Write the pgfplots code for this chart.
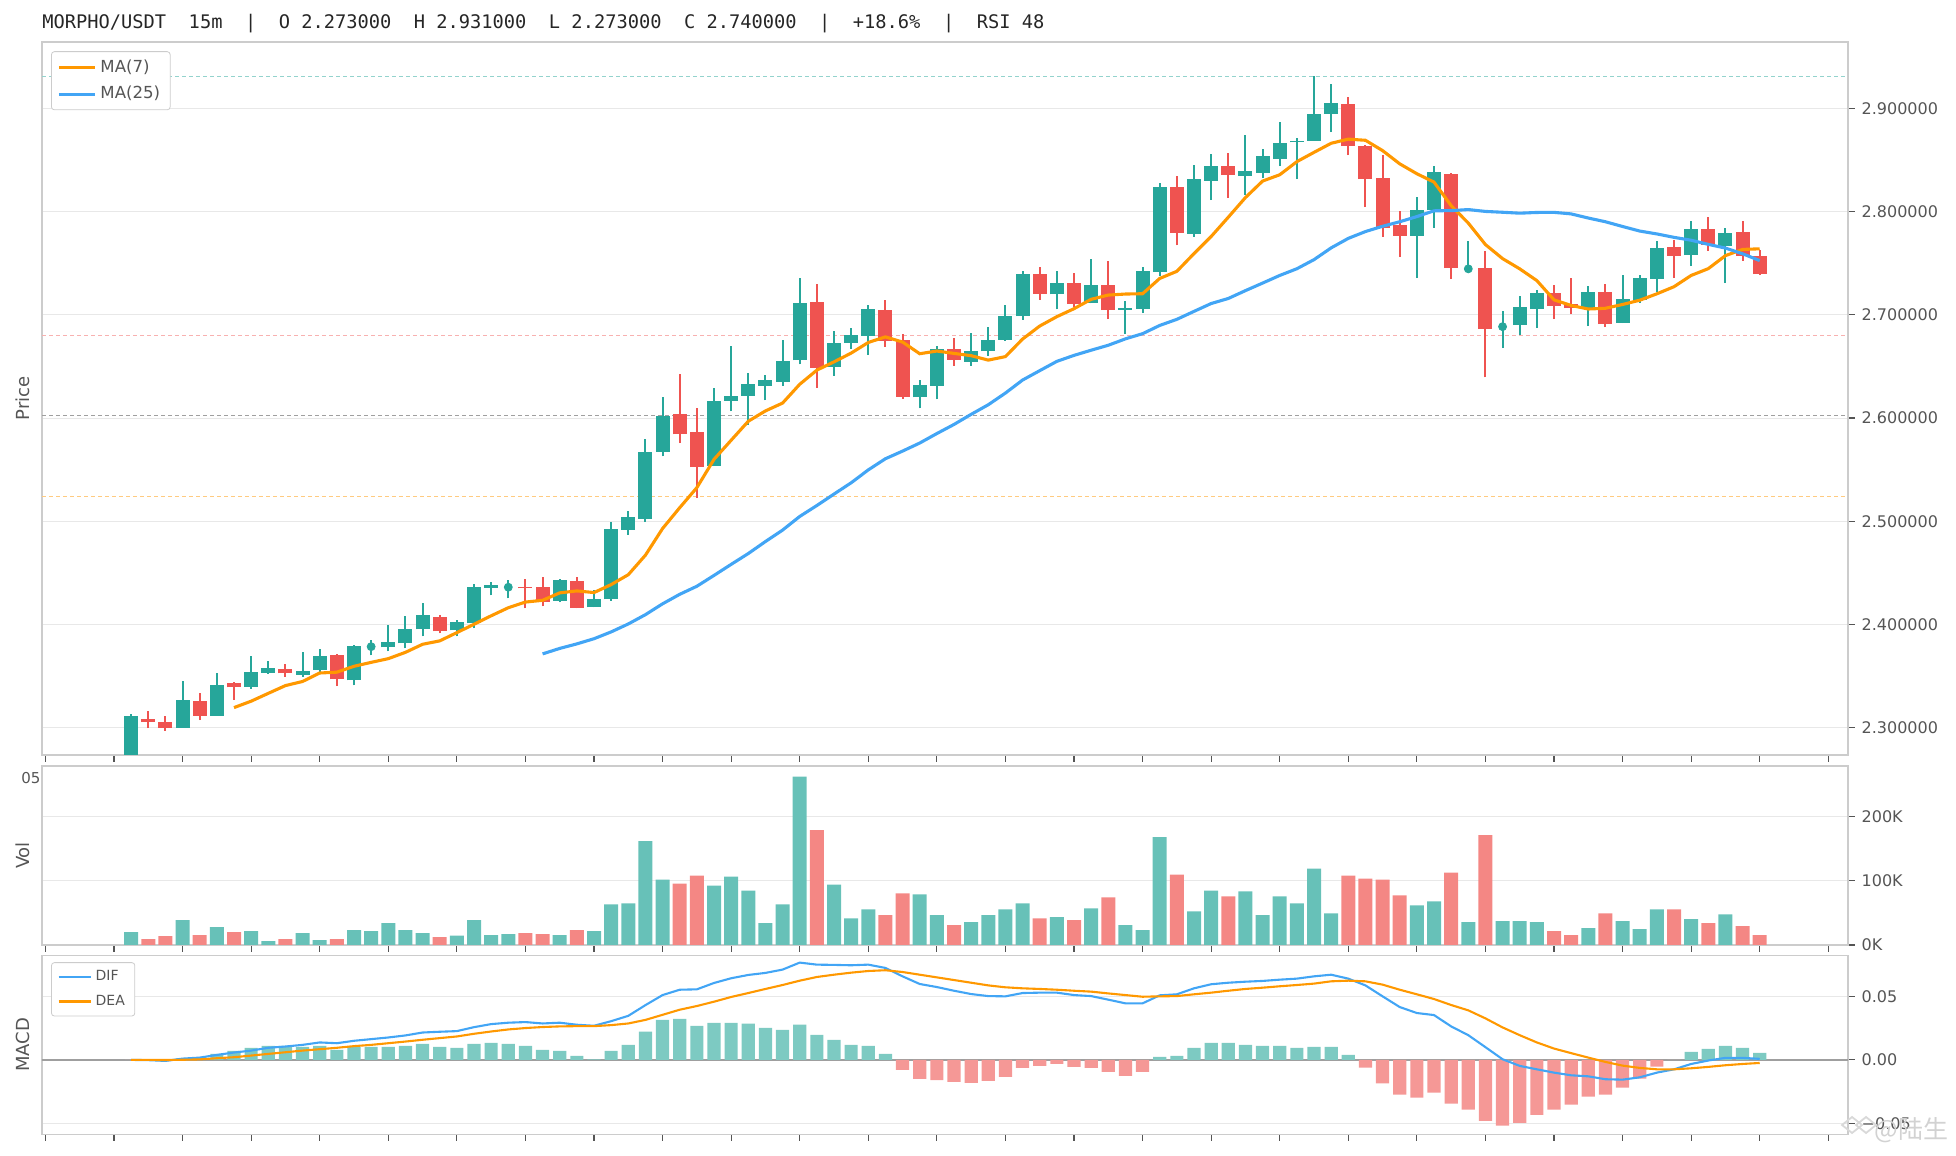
\documentclass[border=0pt]{standalone}
\usepackage{pgfplots}
\pgfplotsset{compat=1.18}
\usepackage{pgfplotstable}
\usepackage{fontspec}
\setmainfont{DejaVu Sans}
\newfontfamily\monofont{DejaVu Sans Mono}
\newfontfamily\cjk{Noto Sans CJK SC}
\definecolor{up}{HTML}{26A69A}
\definecolor{down}{HTML}{EF5350}
\definecolor{maorange}{HTML}{FF9800}
\definecolor{mablue}{HTML}{42A5F5}
\definecolor{gridc}{HTML}{E8E8E8}
\definecolor{spine}{HTML}{CCCCCC}
\definecolor{tickc}{HTML}{555555}

% up candles: index, open, high, low, close, volume (K)
\pgfplotstableread{
i o h l c v
0 2.2730 2.3135 2.2730 2.3110 20.0
3 2.3003 2.3457 2.3000 2.3274 38.5
5 2.3119 2.3535 2.3119 2.3419 27.7
7 2.3399 2.3699 2.3380 2.3544 21.5
8 2.3535 2.3650 2.3525 2.3583 6.2
10 2.3515 2.3738 2.3496 2.3554 18.5
11 2.3564 2.3767 2.3535 2.3699 7.7
13 2.3460 2.3805 2.3412 2.3795 23.1
14 2.3786 2.3853 2.3702 2.3786 21.5
15 2.3779 2.3998 2.3741 2.3834 33.8
16 2.3818 2.4085 2.3770 2.3960 23.1
17 2.3953 2.4211 2.3886 2.4095 18.5
19 2.3944 2.4047 2.3886 2.4027 14.4
20 2.4011 2.4395 2.3963 2.4362 38.5
21 2.4359 2.4414 2.4282 2.4385 15.4
22 2.4362 2.4433 2.4253 2.4362 16.9
25 2.4233 2.4443 2.4214 2.4433 15.4
27 2.4166 2.4337 2.4166 2.4250 21.5
28 2.4243 2.4994 2.4230 2.4926 63.1
29 2.4920 2.5100 2.4871 2.5042 64.6
30 2.5021 2.5798 2.4992 2.5675 161.5
31 2.5675 2.6207 2.5630 2.6024 101.5
34 2.5534 2.6294 2.5534 2.6169 92.3
35 2.6169 2.6700 2.6065 2.6217 106.2
36 2.6217 2.6439 2.5933 2.6333 84.6
37 2.6314 2.6420 2.6172 2.6372 33.8
38 2.6352 2.6758 2.6314 2.6555 63.1
39 2.6558 2.7358 2.6520 2.7116 261.5
41 2.6497 2.6845 2.6410 2.6729 93.8
42 2.6729 2.6874 2.6671 2.6807 41.5
43 2.6797 2.7097 2.6613 2.7058 55.4
46 2.6201 2.6372 2.6094 2.6323 78.5
47 2.6314 2.6700 2.6181 2.6671 46.2
49 2.6546 2.6826 2.6507 2.6652 35.4
50 2.6646 2.6884 2.6604 2.6758 46.2
51 2.6758 2.7090 2.6749 2.6990 55.4
52 2.6987 2.7425 2.6952 2.7396 64.6
54 2.7197 2.7425 2.7052 2.7309 43.1
56 2.7116 2.7537 2.7110 2.7285 56.9
58 2.7049 2.7130 2.6812 2.7061 30.8
59 2.7055 2.7460 2.7016 2.7421 23.1
60 2.7414 2.8275 2.7375 2.8236 167.7
62 2.7783 2.8450 2.7754 2.8314 52.3
63 2.8298 2.8557 2.8110 2.8440 84.6
65 2.8343 2.8741 2.8159 2.8392 83.1
66 2.8372 2.8605 2.8324 2.8537 46.2
67 2.8508 2.8867 2.8440 2.8663 75.4
68 2.8670 2.8712 2.8314 2.8683 64.6
69 2.8686 2.9310 2.8686 2.8945 118.5
70 2.8945 2.9236 2.8770 2.9052 49.2
75 2.7764 2.8139 2.7356 2.8010 61.5
76 2.8010 2.8440 2.7841 2.8382 67.7
78 2.7445 2.7712 2.7430 2.7445 35.4
80 2.6885 2.7032 2.6676 2.6885 36.9
81 2.6900 2.7178 2.6803 2.7071 36.9
82 2.7055 2.7236 2.6871 2.7207 35.4
85 2.7055 2.7275 2.6890 2.7217 26.2
87 2.6919 2.7382 2.6919 2.7149 36.9
88 2.7142 2.7382 2.7113 2.7353 24.6
89 2.7346 2.7712 2.7220 2.7644 55.4
91 2.7579 2.7906 2.7472 2.7828 40.0
93 2.7667 2.7838 2.7307 2.7790 47.7
}\upc

% down candles
\pgfplotstableread{
i o h l c v
1 2.3090 2.3167 2.2997 2.3055 9.2
2 2.3052 2.3110 2.2974 2.3003 13.8
4 2.3264 2.3341 2.3074 2.3119 15.4
6 2.3432 2.3441 2.3274 2.3393 20.0
9 2.3573 2.3622 2.3496 2.3528 9.2
12 2.3709 2.3718 2.3403 2.3470 9.2
18 2.4076 2.4095 2.3915 2.3934 12.3
23 2.4366 2.4443 2.4156 2.4350 18.5
24 2.4366 2.4462 2.4176 2.4214 16.9
26 2.4424 2.4462 2.4156 2.4163 23.1
32 2.6043 2.6426 2.5756 2.5843 95.4
33 2.5869 2.6094 2.5224 2.5524 107.7
40 2.7126 2.7300 2.6294 2.6488 178.5
44 2.7048 2.7145 2.6691 2.6749 46.2
45 2.6758 2.6816 2.6188 2.6207 80.0
48 2.6671 2.6778 2.6507 2.6565 30.8
53 2.7396 2.7464 2.7145 2.7203 41.5
55 2.7309 2.7406 2.7077 2.7106 38.5
57 2.7285 2.7518 2.6958 2.7045 73.8
61 2.8236 2.8343 2.7673 2.7790 109.2
64 2.8440 2.8566 2.8133 2.8353 75.4
71 2.9042 2.9110 2.8547 2.8634 107.7
72 2.8634 2.8644 2.8042 2.8314 103.1
73 2.8324 2.8547 2.7754 2.7841 101.5
74 2.7867 2.8003 2.7560 2.7764 76.9
77 2.8362 2.8372 2.7346 2.7453 112.3
79 2.7450 2.7615 2.6395 2.6861 170.8
83 2.7207 2.7285 2.6958 2.7084 21.5
84 2.7104 2.7353 2.7006 2.7065 15.4
86 2.7217 2.7294 2.6880 2.6909 49.2
90 2.7654 2.7722 2.7356 2.7570 55.4
92 2.7828 2.7945 2.7618 2.7676 33.8
94 2.7799 2.7906 2.7521 2.7570 29.2
95 2.7566 2.7625 2.7385 2.7395 15.4
}\downc

% doji candles (open = close)
\pgfplotstableread{
i c
14 2.3786
22 2.4362
78 2.7445
80 2.6885
}\doji

\pgfplotstableread{
i m
6 2.3196
7 2.3258
8 2.3334
9 2.3409
10 2.3449
11 2.3531
12 2.3539
13 2.3596
14 2.3634
15 2.3670
16 2.3731
17 2.3809
18 2.3842
19 2.3922
20 2.4003
21 2.4085
22 2.4163
23 2.4218
24 2.4235
25 2.4307
26 2.4326
27 2.4310
28 2.4387
29 2.4483
30 2.4672
31 2.4930
32 2.5132
33 2.5326
34 2.5600
35 2.5785
36 2.5969
37 2.6069
38 2.6145
39 2.6327
40 2.6464
41 2.6544
42 2.6629
43 2.6732
44 2.6786
45 2.6736
46 2.6623
47 2.6649
48 2.6626
49 2.6604
50 2.6561
51 2.6595
52 2.6765
53 2.6891
54 2.6982
55 2.7059
56 2.7150
57 2.7191
58 2.7201
59 2.7204
60 2.7352
61 2.7421
62 2.7593
63 2.7758
64 2.7945
65 2.8135
66 2.8295
67 2.8356
68 2.8483
69 2.8573
70 2.8661
71 2.8701
72 2.8690
73 2.8590
74 2.8462
75 2.8366
76 2.8285
77 2.8057
78 2.7888
79 2.7680
80 2.7544
81 2.7445
82 2.7331
83 2.7145
84 2.7090
85 2.7056
86 2.7063
87 2.7100
88 2.7141
89 2.7203
90 2.7272
91 2.7381
92 2.7447
93 2.7573
94 2.7633
95 2.7639
}\maseven

\pgfplotstableread{
i m
24 2.3716
25 2.3769
26 2.3813
27 2.3863
28 2.3929
29 2.4006
30 2.4096
31 2.4201
32 2.4293
33 2.4371
34 2.4476
35 2.4583
36 2.4688
37 2.4804
38 2.4915
39 2.5047
40 2.5153
41 2.5264
42 2.5373
43 2.5498
44 2.5606
45 2.5680
46 2.5758
47 2.5850
48 2.5938
49 2.6036
50 2.6129
51 2.6242
52 2.6368
53 2.6459
54 2.6549
55 2.6607
56 2.6657
57 2.6705
58 2.6767
59 2.6817
60 2.6897
61 2.6956
62 2.7033
63 2.7109
64 2.7158
65 2.7234
66 2.7307
67 2.7381
68 2.7446
69 2.7534
70 2.7648
71 2.7740
72 2.7806
73 2.7857
74 2.7901
75 2.7951
76 2.8007
77 2.8009
78 2.8019
79 2.8001
80 2.7993
81 2.7984
82 2.7991
83 2.7992
84 2.7977
85 2.7937
86 2.7901
87 2.7855
88 2.7811
89 2.7783
90 2.7750
91 2.7722
92 2.7682
93 2.7646
94 2.7591
95 2.7525
}\matwentyfive

\pgfplotstableread{
i dif dea hist
0 0.0000 0.0000 0.0000
1 -0.0002 0.0000 -0.0003
2 -0.0008 -0.0001 -0.0010
3 0.0010 0.0001 0.0012
4 0.0018 0.0004 0.0020
5 0.0039 0.0013 0.0047
6 0.0058 0.0021 0.0071
7 0.0073 0.0034 0.0095
8 0.0095 0.0047 0.0110
9 0.0105 0.0060 0.0110
10 0.0118 0.0073 0.0102
11 0.0137 0.0084 0.0110
12 0.0131 0.0095 0.0079
13 0.0150 0.0108 0.0102
14 0.0163 0.0118 0.0102
15 0.0176 0.0131 0.0102
16 0.0192 0.0144 0.0110
17 0.0215 0.0158 0.0126
18 0.0221 0.0171 0.0102
19 0.0226 0.0184 0.0095
20 0.0257 0.0205 0.0126
21 0.0281 0.0223 0.0134
22 0.0292 0.0239 0.0126
23 0.0297 0.0250 0.0110
24 0.0286 0.0258 0.0079
25 0.0292 0.0263 0.0071
26 0.0276 0.0265 0.0032
27 0.0268 0.0265 0.0005
28 0.0304 0.0273 0.0071
29 0.0346 0.0286 0.0118
30 0.0430 0.0314 0.0221
31 0.0509 0.0354 0.0315
32 0.0551 0.0394 0.0323
33 0.0554 0.0423 0.0268
34 0.0604 0.0457 0.0291
35 0.0641 0.0494 0.0291
36 0.0667 0.0525 0.0284
37 0.0683 0.0557 0.0252
38 0.0709 0.0588 0.0236
39 0.0764 0.0622 0.0276
40 0.0748 0.0651 0.0197
41 0.0746 0.0669 0.0158
42 0.0743 0.0685 0.0118
43 0.0748 0.0698 0.0110
44 0.0722 0.0704 0.0047
45 0.0656 0.0690 -0.0079
46 0.0596 0.0669 -0.0150
47 0.0572 0.0648 -0.0158
48 0.0543 0.0627 -0.0173
49 0.0517 0.0606 -0.0181
50 0.0501 0.0585 -0.0165
51 0.0499 0.0570 -0.0134
52 0.0525 0.0562 -0.0063
53 0.0528 0.0557 -0.0047
54 0.0528 0.0551 -0.0032
55 0.0509 0.0543 -0.0055
56 0.0501 0.0536 -0.0063
57 0.0473 0.0522 -0.0095
58 0.0444 0.0509 -0.0126
59 0.0444 0.0496 -0.0095
60 0.0507 0.0499 0.0024
61 0.0515 0.0501 0.0032
62 0.0562 0.0515 0.0095
63 0.0594 0.0528 0.0134
64 0.0606 0.0543 0.0134
65 0.0614 0.0557 0.0118
66 0.0620 0.0567 0.0110
67 0.0630 0.0578 0.0110
68 0.0638 0.0588 0.0095
69 0.0656 0.0599 0.0102
70 0.0669 0.0617 0.0102
71 0.0638 0.0622 0.0039
72 0.0585 0.0617 -0.0060
73 0.0499 0.0591 -0.0184
74 0.0415 0.0551 -0.0273
75 0.0368 0.0515 -0.0297
76 0.0352 0.0478 -0.0257
77 0.0263 0.0431 -0.0344
78 0.0194 0.0389 -0.0391
79 0.0100 0.0326 -0.0478
80 0.0005 0.0255 -0.0517
81 -0.0047 0.0194 -0.0494
82 -0.0074 0.0137 -0.0431
83 -0.0100 0.0089 -0.0391
84 -0.0121 0.0053 -0.0352
85 -0.0129 0.0018 -0.0289
86 -0.0152 -0.0016 -0.0273
87 -0.0155 -0.0045 -0.0218
88 -0.0137 -0.0063 -0.0147
89 -0.0100 -0.0074 -0.0053
90 -0.0074 -0.0074 0.0000
91 -0.0032 -0.0066 0.0063
92 -0.0005 -0.0055 0.0087
93 0.0016 -0.0042 0.0110
94 0.0016 -0.0032 0.0095
95 0.0008 -0.0024 0.0055
}\macd

\pgfplotsset{
  panel/.style={
    scale only axis, width=903pt, anchor=south west,
    xmin=-5.2, xmax=100.15,
    axis line style={spine, line width=0.7pt},
    xtick={-5,-1,...,99}, xticklabels={},
    xtick pos=bottom, ytick pos=right, yticklabel pos=right,
    tick align=outside, major tick length=3.3pt,
    tick style={draw=tickc, line width=0.6pt},
    ymajorgrids=true, xmajorgrids=false,
    major grid style={gridc, line width=0.5pt},
    yticklabel style={font=\fontsize{8}{9.5}\selectfont, text=tickc},
    scaled y ticks=false, scaled x ticks=false,
    legend cell align=left,
  },
  wick/.style={forget plot, draw=none, no markers,
    error bars/.cd, y dir=plus, y explicit, error mark=none,
    error bar style={draw=#1, line width=1pt}},
  body/.style={forget plot, draw=none, no markers,
    error bars/.cd, y dir=plus, y explicit, error mark=none,
    error bar style={draw=#1, line width=7pt}},
}

\begin{document}
\begin{tikzpicture}[x=1pt,y=1pt]
\useasboundingbox (0,0) rectangle (978,578);

% ---------------- price panel ----------------
\begin{axis}[panel, at={(21pt,200.5pt)}, height=356.5pt,
  ymin=2.2737, ymax=2.9642,
  ytick={2.3,2.4,2.5,2.6,2.7,2.8,2.9},
  yticklabels={2.300000,2.400000,2.500000,2.600000,2.700000,2.800000,2.900000},
  legend style={at={(0.005,0.987)}, anchor=north west, draw=spine, fill=white,
    rounded corners=1.5pt, font=\fontsize{8.3}{9.5}\selectfont, text=tickc,
    inner xsep=3pt, inner ysep=2pt, row sep=1.5pt},
  legend image code/.code={\draw[#1, line width=1.5pt] (0pt,0pt) -- (18pt,0pt);},
]
\addplot[forget plot, up!50, line width=0.5pt, dash pattern=on 2pt off 1.5pt] coordinates {(-6,2.931) (101,2.931)};
\addplot[forget plot, down!45, line width=0.5pt, dash pattern=on 2pt off 1.5pt] coordinates {(-6,2.6796) (101,2.6796)};
\addplot[forget plot, gray!75, line width=0.5pt, dash pattern=on 2pt off 1.5pt] coordinates {(-6,2.602) (101,2.602)};
\addplot[forget plot, maorange!50, line width=0.5pt, dash pattern=on 2pt off 1.5pt] coordinates {(-6,2.5244) (101,2.5244)};
% wicks
\addplot[wick=up] table[x=i, y=l, y error plus expr={\thisrow{h}-\thisrow{l}}] {\upc};
\addplot[wick=down] table[x=i, y=l, y error plus expr={\thisrow{h}-\thisrow{l}}] {\downc};
% bodies
\addplot[body=up] table[x=i, y=o, y error plus expr={\thisrow{c}-\thisrow{o}}] {\upc};
\addplot[body=down] table[x=i, y=c, y error plus expr={\thisrow{o}-\thisrow{c}}] {\downc};
\addplot[forget plot, only marks, mark=*, mark size=2pt, mark options={draw=up, fill=up}] table[x=i, y=c] {\doji};
% moving averages
\addplot[maorange, line width=1.55pt] table[x=i, y=m] {\maseven};
\addlegendentry{MA(7)}
\addplot[mablue, line width=1.55pt] table[x=i, y=m] {\matwentyfive};
\addlegendentry{MA(25)}
\end{axis}

% ---------------- volume panel ----------------
\begin{axis}[panel, at={(21pt,105.5pt)}, height=89.5pt,
  ymin=0, ymax=278, ytick={0,100,200}, yticklabels={0K,100K,200K}]
\addplot[ybar, bar width=7pt, bar shift=0pt, fill=up!70, draw=none] table[x=i, y=v] {\upc};
\addplot[ybar, bar width=7pt, bar shift=0pt, fill=down!70, draw=none] table[x=i, y=v] {\downc};
\end{axis}

% ---------------- MACD panel ----------------
\begin{axis}[panel, at={(21pt,10.8pt)}, height=89.4pt,
  ymin=-0.0585, ymax=0.0819, ytick={-0.05,0,0.05}, yticklabels={−0.05,0.00,0.05},
  legend style={at={(0.005,0.963)}, anchor=north west, draw=spine, fill=white,
    rounded corners=1.5pt, font=\fontsize{7}{8.5}\selectfont, text=tickc,
    inner xsep=3pt, inner ysep=2pt, row sep=1.5pt},
  legend image code/.code={\draw[#1, line width=1.1pt] (0pt,0pt) -- (16pt,0pt);},
]
\addplot[forget plot, gray!75, line width=0.8pt] coordinates {(-6,0) (101,0)};
\addplot[forget plot, ybar, bar width=6.6pt, bar shift=0pt, fill=up!60, draw=none, restrict y to domain=0:1] table[x=i, y=hist] {\macd};
\addplot[forget plot, ybar, bar width=6.6pt, bar shift=0pt, fill=down!60, draw=none, restrict y to domain=-1:0] table[x=i, y=hist] {\macd};
\addplot[mablue, line width=1.05pt] table[x=i, y=dif] {\macd};
\addlegendentry{DIF}
\addplot[maorange, line width=1.05pt] table[x=i, y=dea] {\macd};
\addlegendentry{DEA}
\end{axis}

% ---------------- texts ----------------
\node[anchor=west, inner sep=0pt, font=\monofont\fontsize{9.35}{11}\selectfont, text=black!85]
  at (21,566.2) {MORPHO/USDT\ \ 15m\ \ |\ \ O 2.273000\ \ H 2.931000\ \ L 2.273000\ \ C 2.740000\ \ |\ \ +18.6\%\ \ |\ \ RSI 48};
\node[rotate=90, font=\fontsize{9}{10}\selectfont, text=tickc] at (11.35,378.75) {Price};
\node[rotate=90, font=\fontsize{9}{10}\selectfont, text=tickc] at (11.35,150.25) {Vol};
\node[rotate=90, font=\fontsize{9}{10}\selectfont, text=tickc] at (11.35,55.5) {MACD};
\node[anchor=east, inner sep=0pt, font=\fontsize{7.5}{8}\selectfont, text=tickc] at (20.4,188.8) {05};
% watermark
\draw[gray!30, line width=0.9pt] (928,15.5) -- (933,19.5) -- (938,15.5) -- (933,11.5) -- cycle;
\draw[gray!30, line width=0.9pt] (921,15.5) -- (926,19.5) -- (931,15.5) -- (926,11.5) -- cycle;
\node[anchor=west, inner sep=0pt, font=\cjk\fontsize{12.5}{14}\selectfont, text=gray!35] at (937,13) {@陆生};
\end{tikzpicture}
\end{document}
